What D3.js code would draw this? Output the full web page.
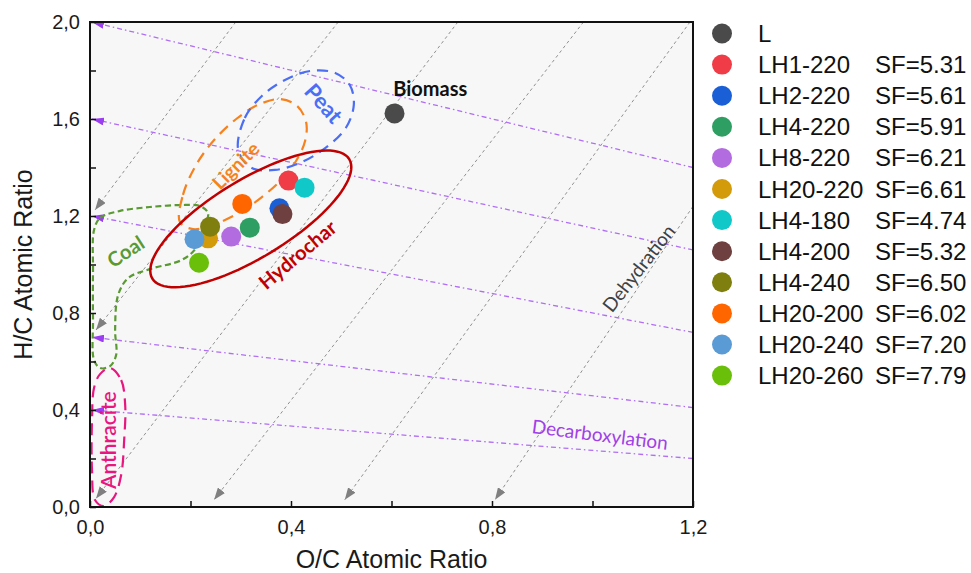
<!DOCTYPE html>
<html>
<head>
<meta charset="utf-8">
<script src="https://cdn.jsdelivr.net/npm/d3@7"></script>
<style>
  body { margin: 0; background: #fff; }
  svg { display: block; }
</style>
</head>
<body>
<div id="chart"></div>
<script>
// Samples (legend order), SF values, colours and atomic ratios
const samples = ["L", "LH1-220", "LH2-220", "LH4-220", "LH8-220", "LH20-220",
                 "LH4-180", "LH4-200", "LH4-240", "LH20-200", "LH20-240", "LH20-260"];
const sfLabels = ["", "SF=5.31", "SF=5.61", "SF=5.91", "SF=6.21", "SF=6.61",
                  "SF=4.74", "SF=5.32", "SF=6.50", "SF=6.02", "SF=7.20", "SF=7.79"];
const ocRatio = [0.606, 0.395, 0.377, 0.318, 0.281, 0.235, 0.427, 0.383, 0.239, 0.303, 0.208, 0.217];
const hcRatio = [1.623, 1.346, 1.232, 1.152, 1.115, 1.108, 1.317, 1.208, 1.156, 1.250, 1.104, 1.007];
const colors = ["#4a4a4a", "#f03c46", "#1a5fd6", "#2e9e62", "#b36be0", "#d39b0a",
                "#10c8c8", "#6e4040", "#7f7f0f", "#ff6600", "#5b9bd5", "#6abf0a"];

// Axis ticks
const xTickValues = [0, 0.2, 0.4, 0.6, 0.8, 1.0, 1.2];
const xLabelled = [0, 0.4, 0.8, 1.2];
const yTickValues = [0, 0.2, 0.4, 0.6, 0.8, 1.0, 1.2, 1.4, 1.6, 1.8, 2.0];
const yLabelled = [0, 0.4, 0.8, 1.2, 1.6, 2.0];

// Decarboxylation guides: H/C at O/C = 0 (arrow end) and at O/C = 1.2
const decarbStart = [2.0, 1.6, 1.2, 0.7, 0.4];
const decarbEnd = [1.40, 1.06, 0.72, 0.41, 0.20];

// Dehydration guides: upper end and arrow tip, [O/C, H/C]
const dehydTop = [[0.29, 2.0], [0.494, 2.0], [0.732, 2.0], [0.982, 2.0], [1.194, 2.0], [1.2, 1.24]];
const dehydTip = [[0.01, 1.225], [0.012, 0.73], [0.012, 0.035], [0.247, 0.03], [0.507, 0.03], [0.806, 0.03]];

// Region outlines, [O/C, H/C]
const peatOutline = [[0.295, 1.472], [0.308, 1.604], [0.342, 1.695], [0.388, 1.761], [0.438, 1.798],
  [0.488, 1.790], [0.517, 1.740], [0.525, 1.658], [0.509, 1.563], [0.468, 1.480], [0.418, 1.419],
  [0.368, 1.390], [0.322, 1.398]];
const ligniteOutline = [[0.179, 1.175], [0.185, 1.287], [0.211, 1.410], [0.247, 1.513], [0.291, 1.600],
  [0.334, 1.658], [0.378, 1.682], [0.412, 1.654], [0.430, 1.588], [0.428, 1.509], [0.410, 1.427],
  [0.380, 1.348], [0.342, 1.278], [0.299, 1.216], [0.249, 1.167], [0.205, 1.146]];
const coalOutline = [[0.008, 1.142], [0.020, 1.192], [0.060, 1.221], [0.119, 1.237], [0.179, 1.245],
  [0.219, 1.241], [0.235, 1.212], [0.229, 1.163], [0.211, 1.068], [0.183, 1.019], [0.119, 0.981],
  [0.076, 0.944], [0.056, 0.874], [0.050, 0.730], [0.052, 0.627], [0.040, 0.581], [0.020, 0.573],
  [0.008, 0.606], [0.006, 0.771], [0.006, 0.977]];
const anthraciteOutline = [[0.040, 0.573], [0.062, 0.524], [0.070, 0.421], [0.068, 0.276], [0.062, 0.132],
  [0.048, 0.041], [0.028, 0.004], [0.010, 0.029], [0.004, 0.153], [0.004, 0.359], [0.008, 0.491],
  [0.020, 0.548]];
// Hydrochar ellipse: centre and two conjugate semi-axes in data units
const hydrocharCentre = [0.320, 1.188];
const hydrocharMajor = [0.196, 0.246];
const hydrocharMinor = [0.040, -0.138];

// Annotation labels: text, position [O/C, H/C], angle
const labelTexts = ["Biomass", "Peat", "Lignite", "Coal", "Hydrochar", "Anthracite", "Dehydration", "Decarboxylation"];
const labelPos = [[0.677, 1.726], [0.466, 1.666], [0.289, 1.410], [0.070, 1.056], [0.412, 1.043],
                  [0.034, 0.276], [1.091, 0.986], [1.015, 0.301]];
const labelAngle = [0, 48, -45, -33, -40, -90, -52, 7];
const labelColor = ["#111", "#4b6ef5", "#f5821f", "#5a9a32", "#c00000", "#e8177f", "#404040", "#a040e8"];
const labelSize = [20, 22, 19, 20, 20, 21, 19, 19];
const labelWeight = ["bold", "bold", "bold", "bold", "bold", 600, "normal", "normal"];

drawChart();

function drawChart() {
    const width = 971, height = 573;
    const plot = { left: 90, right: 693, top: 22, bottom: 507 };

    const svg = d3.select("#chart").append("svg")
        .attr("width", width)
        .attr("height", height);

    const x = d3.scaleLinear().domain([0, 1.2]).range([plot.left, plot.right]);
    const y = d3.scaleLinear().domain([0, 2]).range([plot.bottom, plot.top]);

    // Arrow heads
    const defs = svg.append("defs");
    function arrow(id, color, w, h) {
        defs.append("marker")
            .attr("id", id)
            .attr("viewBox", "0 0 10 10")
            .attr("refX", 10).attr("refY", 5)
            .attr("markerWidth", w).attr("markerHeight", h)
            .attr("markerUnits", "userSpaceOnUse")
            .attr("preserveAspectRatio", "none")
            .attr("orient", "auto")
            .append("path")
            .attr("d", "M0,0 L10,5 L0,10 z")
            .attr("fill", color);
    }
    arrow("arrowPurple", "#9b3df0", 12, 8);
    arrow("arrowGray", "#808080", 12, 9);

    // Plot background
    svg.append("rect")
        .attr("x", plot.left).attr("y", plot.top)
        .attr("width", plot.right - plot.left)
        .attr("height", plot.bottom - plot.top)
        .attr("fill", "#f7f7f7");

    const line = d3.line().x(d => x(d[0])).y(d => y(d[1]));

    // Dehydration guides
    svg.selectAll(".dehyd")
        .data(dehydTop.map((d, i) => [d, dehydTip[i]]))
        .enter().append("path")
        .attr("class", "dehyd")
        .attr("d", line)
        .attr("fill", "none")
        .attr("stroke", "#8f8f8f")
        .attr("stroke-width", 1)
        .attr("stroke-dasharray", "3,3")
        .attr("marker-end", "url(#arrowGray)");

    // Decarboxylation guides
    svg.selectAll(".decarb")
        .data(decarbStart.map((d, i) => [[1.2, decarbEnd[i]], [0.004, d]]))
        .enter().append("path")
        .attr("class", "decarb")
        .attr("d", line)
        .attr("fill", "none")
        .attr("stroke", "#b06ef5")
        .attr("stroke-width", 1.3)
        .attr("stroke-dasharray", "5,3,1.5,3")
        .attr("marker-end", "url(#arrowPurple)");

    // Region outlines
    const closed = d3.line().x(d => x(d[0])).y(d => y(d[1])).curve(d3.curveCatmullRomClosed);
    const regions = [
        { pts: coalOutline, color: "#5a9a32", dash: "6,3.5" },
        { pts: anthraciteOutline, color: "#e8177f", dash: "12,7" },
        { pts: ligniteOutline, color: "#f5821f", dash: "11,7" },
        { pts: peatOutline, color: "#4b6ef5", dash: "11,7" }
    ];
    regions.forEach(r => {
        svg.append("path")
            .attr("d", closed(r.pts))
            .attr("fill", "none")
            .attr("stroke", r.color)
            .attr("stroke-width", 2.2)
            .attr("stroke-dasharray", r.dash);
    });

    // Hydrochar ellipse
    const ellipsePts = d3.range(0, 96).map(k => {
        const t = k / 96 * 2 * Math.PI;
        return [hydrocharCentre[0] + hydrocharMajor[0] * Math.cos(t) + hydrocharMinor[0] * Math.sin(t),
                hydrocharCentre[1] + hydrocharMajor[1] * Math.cos(t) + hydrocharMinor[1] * Math.sin(t)];
    });
    svg.append("path")
        .attr("d", d3.line().x(d => x(d[0])).y(d => y(d[1])).curve(d3.curveLinearClosed)(ellipsePts))
        .attr("fill", "none")
        .attr("stroke", "#c00000")
        .attr("stroke-width", 2.5);

    // Annotation labels
    labelTexts.forEach((t, i) => {
        const px = x(labelPos[i][0]), py = y(labelPos[i][1]);
        svg.append("text")
            .attr("transform", `translate(${px},${py}) rotate(${labelAngle[i]})`)
            .attr("text-anchor", "middle")
            .attr("dominant-baseline", "central")
            .style("font-family", "Lato, 'Open Sans', sans-serif")
            .style("font-size", labelSize[i] + "px")
            .style("font-weight", labelWeight[i])
            .attr("fill", labelColor[i])
            .text(t);
    });

    // Sample points
    svg.selectAll(".dot")
        .data(samples)
        .enter().append("circle")
        .attr("class", "dot")
        .attr("cx", (d, i) => x(ocRatio[i]))
        .attr("cy", (d, i) => y(hcRatio[i]))
        .attr("r", 10)
        .attr("fill", (d, i) => colors[i]);

    // Axes, ticks pointing inward
    const fmt = d => d.toFixed(1).replace(".", ",");
    const xAxis = svg.append("g")
        .attr("transform", `translate(0,${plot.bottom})`)
        .call(d3.axisBottom(x).tickValues(xTickValues).tickSize(-6).tickPadding(13)
            .tickFormat(d => xLabelled.includes(d) ? fmt(d) : ""));
    const yAxis = svg.append("g")
        .attr("transform", `translate(${plot.left},0)`)
        .call(d3.axisLeft(y).tickValues(yTickValues).tickSize(-6).tickPadding(10)
            .tickFormat(d => yLabelled.includes(d) ? fmt(d) : ""));
    [xAxis, yAxis].forEach(a => {
        a.select(".domain").remove();
        a.selectAll("line").attr("stroke", "#111").attr("stroke-width", 1.5);
        a.selectAll("text")
            .style("font-family", "'Liberation Sans', Arial, sans-serif")
            .style("font-size", "20px")
            .attr("fill", "#1a1a1a");
    });

    // Frame
    svg.append("rect")
        .attr("x", plot.left).attr("y", plot.top)
        .attr("width", plot.right - plot.left)
        .attr("height", plot.bottom - plot.top)
        .attr("fill", "none")
        .attr("stroke", "#111")
        .attr("stroke-width", 2);

    // Axis titles
    svg.append("text")
        .attr("x", (plot.left + plot.right) / 2)
        .attr("y", 568)
        .attr("text-anchor", "middle")
        .style("font-family", "'Liberation Sans', Arial, sans-serif")
        .style("font-size", "25px")
        .attr("fill", "#1a1a1a")
        .text("O/C Atomic Ratio");
    svg.append("text")
        .attr("transform", `translate(32,${(plot.top + plot.bottom) / 2}) rotate(-90)`)
        .attr("text-anchor", "middle")
        .style("font-family", "'Liberation Sans', Arial, sans-serif")
        .style("font-size", "25px")
        .attr("fill", "#1a1a1a")
        .text("H/C Atomic Ratio");

    // Legend
    const legend = svg.append("g");
    const rows = legend.selectAll("g")
        .data(samples)
        .enter().append("g")
        .attr("transform", (d, i) => `translate(722,${33.5 + i * 31.1})`);
    rows.append("circle")
        .attr("r", 10)
        .attr("fill", (d, i) => colors[i]);
    rows.append("text")
        .attr("x", 36).attr("y", 8.5)
        .style("font-family", "'Liberation Sans', Arial, sans-serif")
        .style("font-size", "24px")
        .attr("fill", "#111")
        .text(d => d);
    rows.append("text")
        .attr("x", 153).attr("y", 8.5)
        .style("font-family", "'Liberation Sans', Arial, sans-serif")
        .style("font-size", "24px")
        .attr("fill", "#111")
        .text((d, i) => sfLabels[i]);
}
</script>
</body>
</html>
